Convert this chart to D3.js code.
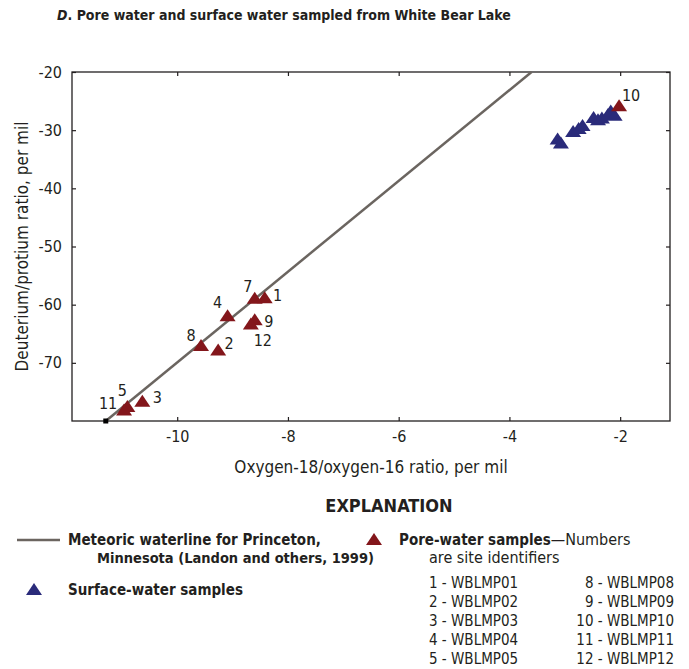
<!DOCTYPE html>
<html>
<head>
<meta charset="utf-8">
<script src="https://cdn.jsdelivr.net/npm/d3@7"></script>
<style>
body{margin:0;background:#fff;}
svg text{font-family:"Liberation Sans Narrow","DejaVu Sans Condensed",sans-serif;fill:#231f20;}
</style>
</head>
<body>
<svg id="chart" width="689" height="669"></svg>
<script>
// pore-water samples (delta 18O, delta D, site id)
var poreIds=["1","2","3","4","5","7","8","9","10","11","12"];
var poreO18=[-8.42,-9.26,-10.63,-9.09,-10.90,-8.60,-9.57,-8.60,-2.02,-10.96,-8.67];
var poreD=[-58.9,-67.9,-76.7,-62.0,-77.6,-59.0,-67.1,-62.7,-25.9,-78.2,-63.4];

// surface-water samples
var surfO18=[-3.13,-3.07,-2.85,-2.75,-2.68,-2.48,-2.40,-2.33,-2.22,-2.17,-2.10];
var surfD=[-31.6,-32.3,-30.3,-29.8,-29.3,-27.9,-28.3,-28.0,-27.4,-26.8,-27.5];

// meteoric waterline end points
var mwlO18=[-11.29,-3.6];
var mwlD=[-80,-20];

var xTicks=[-10,-8,-6,-4,-2];
var yTicks=[-20,-30,-40,-50,-60,-70];

var siteList=["1 - WBLMP01","2 - WBLMP02","3 - WBLMP03","4 - WBLMP04","5 - WBLMP05",
              "8 - WBLMP08","9 - WBLMP09","10 - WBLMP10","11 - WBLMP11","12 - WBLMP12"];

// label offsets (px) from each point
var labelOff={"1":[13,-3],"7":[-7,-12],"4":[-10,-14],"9":[14,1],"12":[12,16],"8":[-10,-10],
              "2":[11,-7],"3":[15,-4],"5":[-5,-17],"11":[-16,-7],"10":[12,-11]};

var red="#83161b", blue="#2a2b7a", lineCol="#6b6560";

var svg=d3.select("#chart");
var pL=72,pT=72,pR=670,pB=421;

var x=d3.scaleLinear().domain([-11.9,-1.1]).range([pL,pR]);
var y=d3.scaleLinear().domain([-80,-20]).range([pB,pT]);

svg.append("text").attr("x",57).attr("y",20)
  .style("font-size","14px").style("font-weight","bold")
  .html('<tspan font-style="italic">D</tspan>. Pore water and surface water sampled from White Bear Lake');

// frame
svg.append("rect").attr("x",pL).attr("y",pT).attr("width",pR-pL).attr("height",pB-pT)
  .attr("fill","none").attr("stroke","#231f20").attr("stroke-width",1.3);

var g=svg.append("g");
g.append("g").attr("transform","translate(0,"+pB+")")
  .call(d3.axisBottom(x).tickValues(xTicks).tickSize(-4).tickPadding(10).tickFormat(d=>String(d)))
  .call(a=>a.select(".domain").remove());
g.append("g").attr("transform","translate(0,"+pT+")")
  .call(d3.axisTop(x).tickValues(xTicks).tickSize(-4).tickFormat(""))
  .call(a=>a.select(".domain").remove());
g.append("g").attr("transform","translate("+pL+",0)")
  .call(d3.axisLeft(y).tickValues(yTicks).tickSize(-4).tickPadding(10).tickFormat(d=>String(d)))
  .call(a=>a.select(".domain").remove());
g.append("g").attr("transform","translate("+pR+",0)")
  .call(d3.axisRight(y).tickValues(yTicks).tickSize(-4).tickFormat(""))
  .call(a=>a.select(".domain").remove());
g.selectAll(".tick line").attr("stroke","#231f20").attr("stroke-width",1.2);
g.selectAll(".tick text").style("font-size","16px").attr("fill","#231f20");

// axis titles
svg.append("text").attr("x",(pL+pR)/2).attr("y",473).attr("text-anchor","middle")
  .style("font-size","17px").text("Oxygen-18/oxygen-16 ratio, per mil");
svg.append("text").attr("transform","translate(28,"+((pT+pB)/2)+") rotate(-90)")
  .attr("text-anchor","middle").style("font-size","17px").text("Deuterium/protium ratio, per mil");

// meteoric waterline
svg.append("line").attr("x1",x(mwlO18[0])).attr("y1",y(mwlD[0]))
  .attr("x2",x(mwlO18[1])).attr("y2",y(mwlD[1]))
  .attr("stroke",lineCol).attr("stroke-width",2.5);
svg.append("rect").attr("x",x(mwlO18[0])-2.5).attr("y",y(mwlD[0])-2.5)
  .attr("width",5).attr("height",5).attr("fill","#000");

var tri="M0,-7L8,5L-8,5Z";

var surf=surfO18.map((v,i)=>({x:v,y:surfD[i]}));
svg.selectAll(".surf").data(surf).enter().append("path").attr("class","surf")
  .attr("d",tri).attr("fill",blue)
  .attr("transform",d=>"translate("+x(d.x)+","+y(d.y)+")");

var pore=poreO18.map((v,i)=>({x:v,y:poreD[i],id:poreIds[i]}));
svg.selectAll(".pore").data(pore).enter().append("path").attr("class","pore")
  .attr("d",tri).attr("fill",red)
  .attr("transform",d=>"translate("+x(d.x)+","+y(d.y)+")");
svg.selectAll(".plab").data(pore).enter().append("text").attr("class","plab")
  .attr("x",d=>x(d.x)+labelOff[d.id][0]).attr("y",d=>y(d.y)+labelOff[d.id][1])
  .attr("text-anchor","middle").attr("dominant-baseline","central")
  .style("font-size","16px").text(d=>d.id);

// explanation
svg.append("text").attr("x",389).attr("y",512).attr("text-anchor","middle")
  .style("font-size","18px").style("font-weight","bold").text("EXPLANATION");

svg.append("line").attr("x1",17).attr("x2",60).attr("y1",540).attr("y2",540)
  .attr("stroke",lineCol).attr("stroke-width",2.5);
svg.append("text").attr("x",68).attr("y",545).style("font-size","15px").style("font-weight","bold")
  .text("Meteoric waterline for Princeton,");
svg.append("text").attr("x",97).attr("y",563).style("font-size","14.5px").style("font-weight","bold")
  .text("Minnesota (Landon and others, 1999)");

svg.append("path").attr("d",tri).attr("fill",blue).attr("transform","translate(34,590)");
svg.append("text").attr("x",68).attr("y",595).style("font-size","15px").style("font-weight","bold")
  .text("Surface-water samples");

svg.append("path").attr("d",tri).attr("fill",red).attr("transform","translate(374,540)");
svg.append("text").attr("x",399).attr("y",545).style("font-size","15px")
  .html('<tspan font-weight="bold">Pore-water samples</tspan><tspan font-size="16px">\u2014Numbers</tspan>');
svg.append("text").attr("x",429).attr("y",563).style("font-size","16px").text("are site identifiers");

svg.selectAll(".site").data(siteList).enter().append("text").attr("class","site")
  .attr("x",(d,i)=>i<5?429:674).attr("y",(d,i)=>588+(i%5)*19)
  .attr("text-anchor",(d,i)=>i<5?"start":"end")
  .style("font-size","15px").text(d=>d);
</script>
</body>
</html>
